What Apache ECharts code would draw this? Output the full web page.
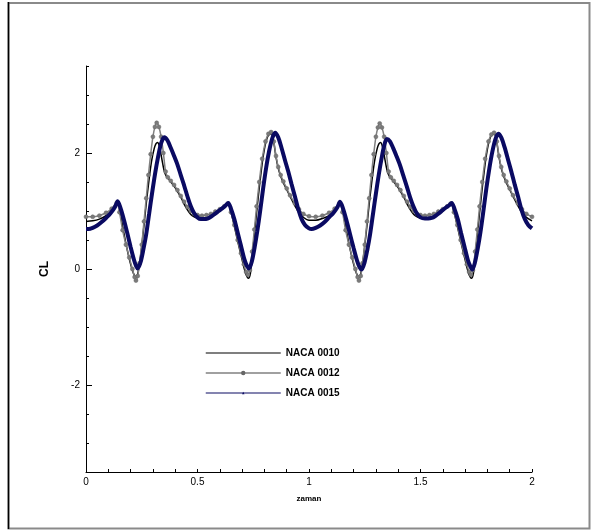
<!DOCTYPE html>
<html>
<head>
<meta charset="utf-8">
<script src="https://cdn.jsdelivr.net/npm/echarts@6/dist/echarts.min.js"></script>
<style>
  html, body { margin: 0; padding: 0; background: #fff; }
  #chart { width: 592px; height: 530px; }
</style>
</head>
<body>
<div id="chart"></div>
<script>
// Lift coefficient histories, [zaman, CL] pairs
const naca0010 = [
  [0,0.82],[0.03,0.83],[0.06,0.86],[0.09,0.92],[0.115,1.01],[0.14,1.15],[0.152,1.00],[0.166,0.70],[0.18,0.42],[0.195,0.16],
  [0.208,-0.02],[0.217,-0.11],[0.224,-0.14],[0.232,-0.08],[0.241,0.12],[0.25,0.40],[0.26,0.75],[0.27,1.12],[0.282,1.52],[0.294,1.86],
  [0.306,2.08],[0.314,2.16],[0.321,2.18],[0.33,2.10],[0.34,1.90],[0.35,1.70],[0.36,1.60],[0.375,1.53],[0.395,1.43],[0.41,1.34],
  [0.425,1.24],[0.44,1.12],[0.455,1.02],[0.47,0.94],[0.485,0.90],[0.5,0.88],[0.52,0.87],[0.54,0.88],[0.56,0.90],[0.58,0.94],
  [0.6,1.00],[0.62,1.06],[0.638,1.13],[0.65,0.98],[0.665,0.74],[0.68,0.48],[0.695,0.24],[0.708,0.03],[0.718,-0.10],[0.728,-0.16],
  [0.737,-0.08],[0.747,0.28],[0.757,0.66],[0.768,1.08],[0.78,1.50],[0.793,1.90],[0.806,2.18],[0.818,2.31],[0.83,2.33],[0.842,2.18],
  [0.852,1.93],[0.862,1.74],[0.873,1.60],[0.885,1.49],[0.9,1.37],[0.915,1.25],[0.937,1.09],[0.955,0.97],[0.975,0.89],[1.0,0.84],
  [1.03,0.84],[1.06,0.87],[1.09,0.92],[1.115,1.01],[1.14,1.15],[1.152,1.00],[1.166,0.70],[1.18,0.42],[1.195,0.16],
  [1.208,-0.02],[1.217,-0.11],[1.224,-0.14],[1.232,-0.08],[1.241,0.12],[1.25,0.40],[1.26,0.75],[1.27,1.12],[1.282,1.52],[1.294,1.86],
  [1.306,2.08],[1.314,2.16],[1.321,2.18],[1.33,2.10],[1.34,1.90],[1.35,1.70],[1.36,1.60],[1.375,1.53],[1.395,1.43],[1.41,1.34],
  [1.425,1.24],[1.44,1.12],[1.455,1.02],[1.47,0.94],[1.485,0.90],[1.5,0.88],[1.52,0.87],[1.54,0.88],[1.56,0.90],[1.58,0.94],
  [1.6,1.00],[1.62,1.06],[1.638,1.13],[1.65,0.98],[1.665,0.74],[1.68,0.48],[1.695,0.24],[1.708,0.03],[1.718,-0.10],[1.728,-0.16],
  [1.737,-0.08],[1.747,0.28],[1.757,0.66],[1.768,1.08],[1.78,1.50],[1.793,1.90],[1.806,2.18],[1.818,2.31],[1.83,2.33],[1.842,2.18],
  [1.852,1.93],[1.862,1.74],[1.873,1.60],[1.885,1.49],[1.9,1.37],[1.915,1.25],[1.937,1.09],[1.955,0.97],[1.975,0.89],[2.0,0.83]
];

const naca0012 = [
  [0,0.90],[0.03,0.90],[0.06,0.92],[0.09,0.97],[0.115,1.04],[0.138,1.14],[0.15,0.98],[0.164,0.67],[0.179,0.42],[0.194,0.20],
  [0.208,0.00],[0.218,-0.14],[0.224,-0.20],[0.232,-0.12],[0.24,0.10],[0.25,0.42],[0.26,0.82],[0.27,1.22],[0.28,1.62],[0.29,1.98],
  [0.3,2.28],[0.309,2.45],[0.317,2.52],[0.327,2.45],[0.337,2.28],[0.347,2.00],[0.357,1.68],[0.367,1.58],[0.38,1.52],[0.395,1.45],
  [0.41,1.36],[0.425,1.26],[0.44,1.16],[0.455,1.07],[0.47,1.00],[0.485,0.95],[0.5,0.93],[0.52,0.92],[0.54,0.93],[0.56,0.95],
  [0.58,0.99],[0.6,1.03],[0.62,1.08],[0.636,1.13],[0.65,0.98],[0.665,0.76],[0.68,0.50],[0.695,0.27],[0.708,0.08],[0.718,-0.05],
  [0.726,-0.10],[0.735,-0.02],[0.745,0.30],[0.755,0.68],[0.765,1.08],[0.777,1.50],[0.79,1.90],[0.805,2.20],[0.818,2.33],[0.83,2.36],
  [0.842,2.20],[0.852,1.95],[0.862,1.76],[0.873,1.62],[0.885,1.51],[0.9,1.39],[0.915,1.27],[0.937,1.13],[0.955,1.03],[0.975,0.95],
  [1.0,0.91],[1.03,0.90],[1.06,0.92],[1.09,0.97],[1.115,1.04],[1.138,1.14],[1.15,0.98],[1.164,0.67],[1.179,0.42],[1.194,0.20],
  [1.208,0.00],[1.218,-0.14],[1.224,-0.20],[1.232,-0.12],[1.24,0.10],[1.25,0.42],[1.26,0.82],[1.27,1.22],[1.28,1.62],[1.29,1.98],
  [1.3,2.28],[1.309,2.44],[1.317,2.51],[1.327,2.44],[1.337,2.28],[1.347,2.00],[1.357,1.68],[1.367,1.58],[1.38,1.52],[1.395,1.45],
  [1.41,1.36],[1.425,1.26],[1.44,1.16],[1.455,1.07],[1.47,1.00],[1.485,0.95],[1.5,0.93],[1.52,0.92],[1.54,0.93],[1.56,0.95],
  [1.58,0.99],[1.6,1.03],[1.62,1.08],[1.636,1.13],[1.65,0.98],[1.665,0.76],[1.68,0.50],[1.695,0.27],[1.708,0.08],[1.718,-0.05],
  [1.726,-0.10],[1.735,-0.02],[1.745,0.30],[1.755,0.68],[1.765,1.08],[1.777,1.50],[1.79,1.90],[1.805,2.20],[1.818,2.32],[1.83,2.35],
  [1.842,2.20],[1.852,1.95],[1.862,1.76],[1.873,1.62],[1.885,1.51],[1.9,1.39],[1.915,1.27],[1.937,1.13],[1.955,1.03],[1.975,0.95],
  [2.0,0.90]
];

const naca0015 = [
  [0,0.69],[0.012,0.69],[0.03,0.71],[0.05,0.75],[0.07,0.81],[0.09,0.88],[0.11,0.96],[0.13,1.07],[0.142,1.17],[0.155,1.05],
  [0.17,0.85],[0.185,0.62],[0.2,0.38],[0.215,0.16],[0.225,0.05],[0.232,0.01],[0.245,0.12],[0.258,0.35],[0.27,0.60],[0.283,0.95],
  [0.296,1.30],[0.31,1.65],[0.323,1.93],[0.337,2.17],[0.351,2.27],[0.365,2.22],[0.38,2.09],[0.395,1.95],[0.41,1.80],[0.425,1.62],
  [0.44,1.44],[0.455,1.25],[0.47,1.08],[0.485,0.96],[0.5,0.89],[0.515,0.86],[0.53,0.86],[0.545,0.87],[0.56,0.90],[0.578,0.95],
  [0.595,1.00],[0.612,1.05],[0.627,1.10],[0.638,1.14],[0.65,1.04],[0.665,0.86],[0.68,0.63],[0.695,0.40],[0.71,0.17],[0.722,0.05],
  [0.731,0.01],[0.743,0.12],[0.756,0.37],[0.768,0.65],[0.781,1.00],[0.794,1.38],[0.808,1.75],[0.821,2.03],[0.835,2.25],[0.848,2.35],
  [0.862,2.27],[0.876,2.10],[0.892,1.88],[0.907,1.68],[0.922,1.46],[0.937,1.25],[0.952,1.03],[0.967,0.86],[0.982,0.76],[1.0,0.70],
  [1.012,0.69],[1.03,0.71],[1.05,0.75],[1.07,0.81],[1.09,0.89],[1.11,0.97],[1.128,1.07],[1.139,1.16],[1.152,1.05],[1.168,0.84],
  [1.184,0.60],[1.2,0.36],[1.215,0.15],[1.227,0.03],[1.236,-0.01],[1.249,0.11],[1.262,0.34],[1.274,0.60],[1.287,0.95],[1.3,1.30],
  [1.313,1.63],[1.326,1.92],[1.338,2.14],[1.349,2.24],[1.363,2.20],[1.378,2.08],[1.393,1.94],[1.408,1.79],[1.423,1.61],[1.438,1.43],
  [1.453,1.24],[1.468,1.08],[1.483,0.96],[1.5,0.89],[1.52,0.87],[1.535,0.87],[1.55,0.88],[1.565,0.91],[1.582,0.96],[1.598,1.01],
  [1.614,1.06],[1.629,1.10],[1.64,1.14],[1.652,1.04],[1.667,0.86],[1.682,0.62],[1.697,0.39],[1.712,0.16],[1.724,0.04],[1.732,-0.01],
  [1.744,0.11],[1.757,0.36],[1.769,0.64],[1.782,1.00],[1.795,1.38],[1.809,1.74],[1.822,2.02],[1.836,2.24],[1.849,2.33],[1.863,2.26],
  [1.877,2.10],[1.893,1.88],[1.908,1.67],[1.923,1.45],[1.938,1.24],[1.953,1.02],[1.968,0.86],[1.983,0.76],[2.0,0.70]
];

const seriesNames = ['NACA 0010', 'NACA 0012', 'NACA 0015'];
const xLabelValues = [0, 0.5, 1, 1.5, 2];
const yLabelValues = [-2, 0, 2];

const FONT = '"Liberation Sans", Arial, Helvetica, sans-serif';
const chart = echarts.init(document.getElementById('chart'), null, { renderer: 'canvas' });

chart.setOption({
  animation: false,
  backgroundColor: '#fff',
  grid: { left: 86, right: 60, top: 66, bottom: 58 },
  graphic: [
    { type: 'rect', silent: true, shape: { x: 8.5, y: 3, width: 581, height: 525.5 },
      style: { fill: 'none', stroke: '#8a8a8a', lineWidth: 2 } },
    { type: 'line', silent: true, shape: { x1: 8.5, y1: 2, x2: 8.5, y2: 529 },
      style: { stroke: '#000', lineWidth: 1.5 } }
  ],
  legend: {
    orient: 'vertical',
    left: 200,
    top: 343,
    itemWidth: 75,
    itemHeight: 3,
    itemGap: 10,
    textStyle: { fontFamily: FONT, fontSize: 10, fontWeight: 'bold', color: '#000' },
    data: [
      { name: seriesNames[0], itemStyle: { opacity: 0 }, lineStyle: { width: 1.2 } },
      { name: seriesNames[1], lineStyle: { width: 1.5 } },
      { name: seriesNames[2], lineStyle: { width: 1.2 } }
    ]
  },
  xAxis: {
    type: 'value',
    min: 0,
    max: 2,
    interval: 0.1,
    name: 'zaman',
    nameLocation: 'middle',
    nameGap: 23,
    nameTextStyle: { fontFamily: FONT, fontSize: 8, fontWeight: 'bold', color: '#000' },
    axisLine: { show: true, onZero: false, lineStyle: { color: '#000', width: 1 } },
    axisTick: { show: true, inside: true, length: 3, lineStyle: { color: '#000' } },
    axisLabel: { customValues: xLabelValues, fontFamily: FONT, fontSize: 10, color: '#000', margin: 5 },
    splitLine: { show: false }
  },
  yAxis: [
    {
      type: 'value',
      min: -3.5,
      max: 3.5,
      interval: 0.5,
      name: 'CL',
      nameLocation: 'middle',
      nameGap: 35,
      nameRotate: 90,
      nameTextStyle: { fontFamily: FONT, fontSize: 12, fontWeight: 'bold', color: '#000' },
      axisLine: { show: true, onZero: false, lineStyle: { color: '#000', width: 1 } },
      axisTick: { show: true, inside: true, length: 3, lineStyle: { color: '#000' } },
      axisLabel: { customValues: yLabelValues, fontFamily: FONT, fontSize: 10, color: '#000', margin: 6 },
      splitLine: { show: false }
    },
    {
      // longer ticks at the labelled values
      type: 'value',
      min: -3.5,
      max: 3.5,
      position: 'left',
      offset: 0,
      axisLine: { show: false, onZero: false },
      axisTick: { show: true, inside: true, length: 6, customValues: yLabelValues, lineStyle: { color: '#000' } },
      axisLabel: { show: false },
      splitLine: { show: false }
    }
  ],
  series: [
    {
      name: seriesNames[0],
      type: 'line',
      data: naca0010,
      smooth: 0.3,
      symbol: 'none',
      lineStyle: { color: '#000', width: 1.5 },
      itemStyle: { color: '#000' },
      z: 2
    },
    {
      name: seriesNames[1],
      type: 'line',
      data: naca0012,
      smooth: 0.3,
      symbol: 'circle',
      symbolSize: 4,
      showSymbol: true,
      lineStyle: { color: '#808080', width: 1.5 },
      itemStyle: { color: '#7a7a7a', borderColor: '#666', borderWidth: 0.5 },
      z: 3
    },
    {
      name: seriesNames[2],
      type: 'line',
      data: naca0015,
      smooth: 0.3,
      symbol: 'triangle',
      symbolSize: 3,
      showSymbol: false,
      lineStyle: { color: '#0a0a62', width: 4 },
      itemStyle: { color: '#0a0a62' },
      z: 4
    }
  ]
});
</script>
</body>
</html>
